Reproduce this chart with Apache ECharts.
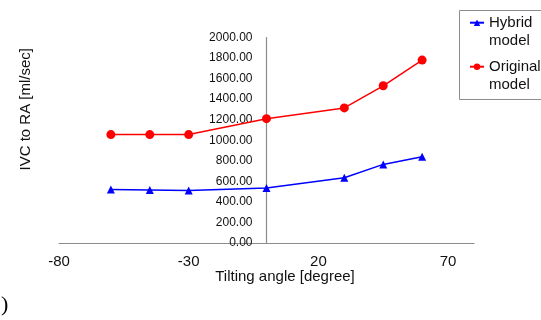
<!DOCTYPE html>
<html>
<head>
<meta charset="utf-8">
<script src="https://cdn.jsdelivr.net/npm/echarts@6/dist/echarts.min.js"></script>
<style>
  html, body { margin: 0; padding: 0; background: #fff; }
  #chart { width: 541px; height: 320px; }
</style>
</head>
<body>
<div id="chart"></div>
<script>
// Tilting angle (degrees) and IVC-to-RA flow (ml/sec)
const angles = [-60, -45, -30, 0, 30, 45, 60];
const hybridFlow = [520, 515, 510, 535, 635, 765, 840];
const originalFlow = [1055, 1055, 1055, 1210, 1315, 1530, 1780];
const xTickLabels = [-80, -30, 20, 70];
const seriesNames = ['Hybrid model', 'Original model'];

const FONT = 'Liberation Sans, Arial, sans-serif';

// x range of the plot; the value axis is drawn where the angle is zero
const X_MIN = -80, X_MAX = 80;
const GRID_LEFT = 59, GRID_RIGHT = 67;
const plotWidth = 541 - GRID_LEFT - GRID_RIGHT;
const zeroOffset = plotWidth * (0 - X_MIN) / (X_MAX - X_MIN);

const chart = echarts.init(document.getElementById('chart'), null, { renderer: 'canvas' });

chart.setOption({
  animation: false,
  backgroundColor: '#ffffff',
  title: {
    text: ')',
    left: -4,
    top: 289,
    textStyle: { fontFamily: 'Liberation Serif, serif', fontSize: 22, fontWeight: 'normal', color: '#000' }
  },
  grid: { left: GRID_LEFT, right: GRID_RIGHT, top: 37.5, bottom: 77, containLabel: false, outerBoundsMode: 'none' },
  graphic: [{
    type: 'rect',
    left: 457, top: 8,
    shape: { width: 95, height: 89 },
    style: { fill: 'none', stroke: '#8c8c8c', lineWidth: 1 },
    silent: true
  }],
  legend: {
    orient: 'vertical',
    left: 469,
    top: -4.3,
    padding: 0,
    itemGap: -10,
    itemWidth: 14,
    itemHeight: 8,
    data: seriesNames,
    // a leading blank line keeps the icon level with the first word
    formatter: name => '\n' + name.replace(' ', '\n'),
    textStyle: { fontFamily: FONT, fontSize: 15, color: '#111', lineHeight: 18 }
  },
  xAxis: {
    type: 'value',
    min: X_MIN, max: X_MAX, interval: 50,
    name: 'Tilting angle [degree]',
    nameLocation: 'middle',
    nameGap: 26,
    nameMoveOverlap: false,
    nameTextStyle: { fontFamily: FONT, fontSize: 15, color: '#111', padding: [0, 0, 0, 37] },
    axisLine: { show: true, onZero: true, lineStyle: { color: '#8c8c8c', width: 1.2 } },
    axisTick: { show: false },
    splitLine: { show: false },
    axisLabel: {
      customValues: xTickLabels,
      margin: 11,
      fontFamily: FONT, fontSize: 15, color: '#111'
    }
  },
  yAxis: {
    type: 'value',
    min: 0, max: 2000, interval: 200,
    offset: -zeroOffset,
    name: 'IVC to RA [ml/sec]',
    nameLocation: 'middle',
    nameRotate: 90,
    nameGap: 233,
    nameTextStyle: { fontFamily: FONT, fontSize: 15, color: '#111', padding: [0, 0, 0, 62] },
    axisLine: { show: true, onZero: false, lineStyle: { color: '#8c8c8c', width: 1.2 } },
    axisTick: { show: false },
    splitLine: { show: false },
    axisLabel: {
      margin: 14,
      fontFamily: FONT, fontSize: 12, color: '#111',
      formatter: v => v.toFixed(2)
    }
  },
  series: [
    {
      name: seriesNames[0],
      type: 'line',
      data: angles.map((a, i) => [a, hybridFlow[i]]),
      symbol: 'triangle',
      symbolSize: 8,
      itemStyle: { color: '#0000ff' },
      lineStyle: { color: '#0000ff', width: 1.5 }
    },
    {
      name: seriesNames[1],
      type: 'line',
      data: angles.map((a, i) => [a, originalFlow[i]]),
      symbol: 'circle',
      symbolSize: 9,
      itemStyle: { color: '#ff0000' },
      lineStyle: { color: '#ff0000', width: 1.5 }
    }
  ]
});
</script>
</body>
</html>
